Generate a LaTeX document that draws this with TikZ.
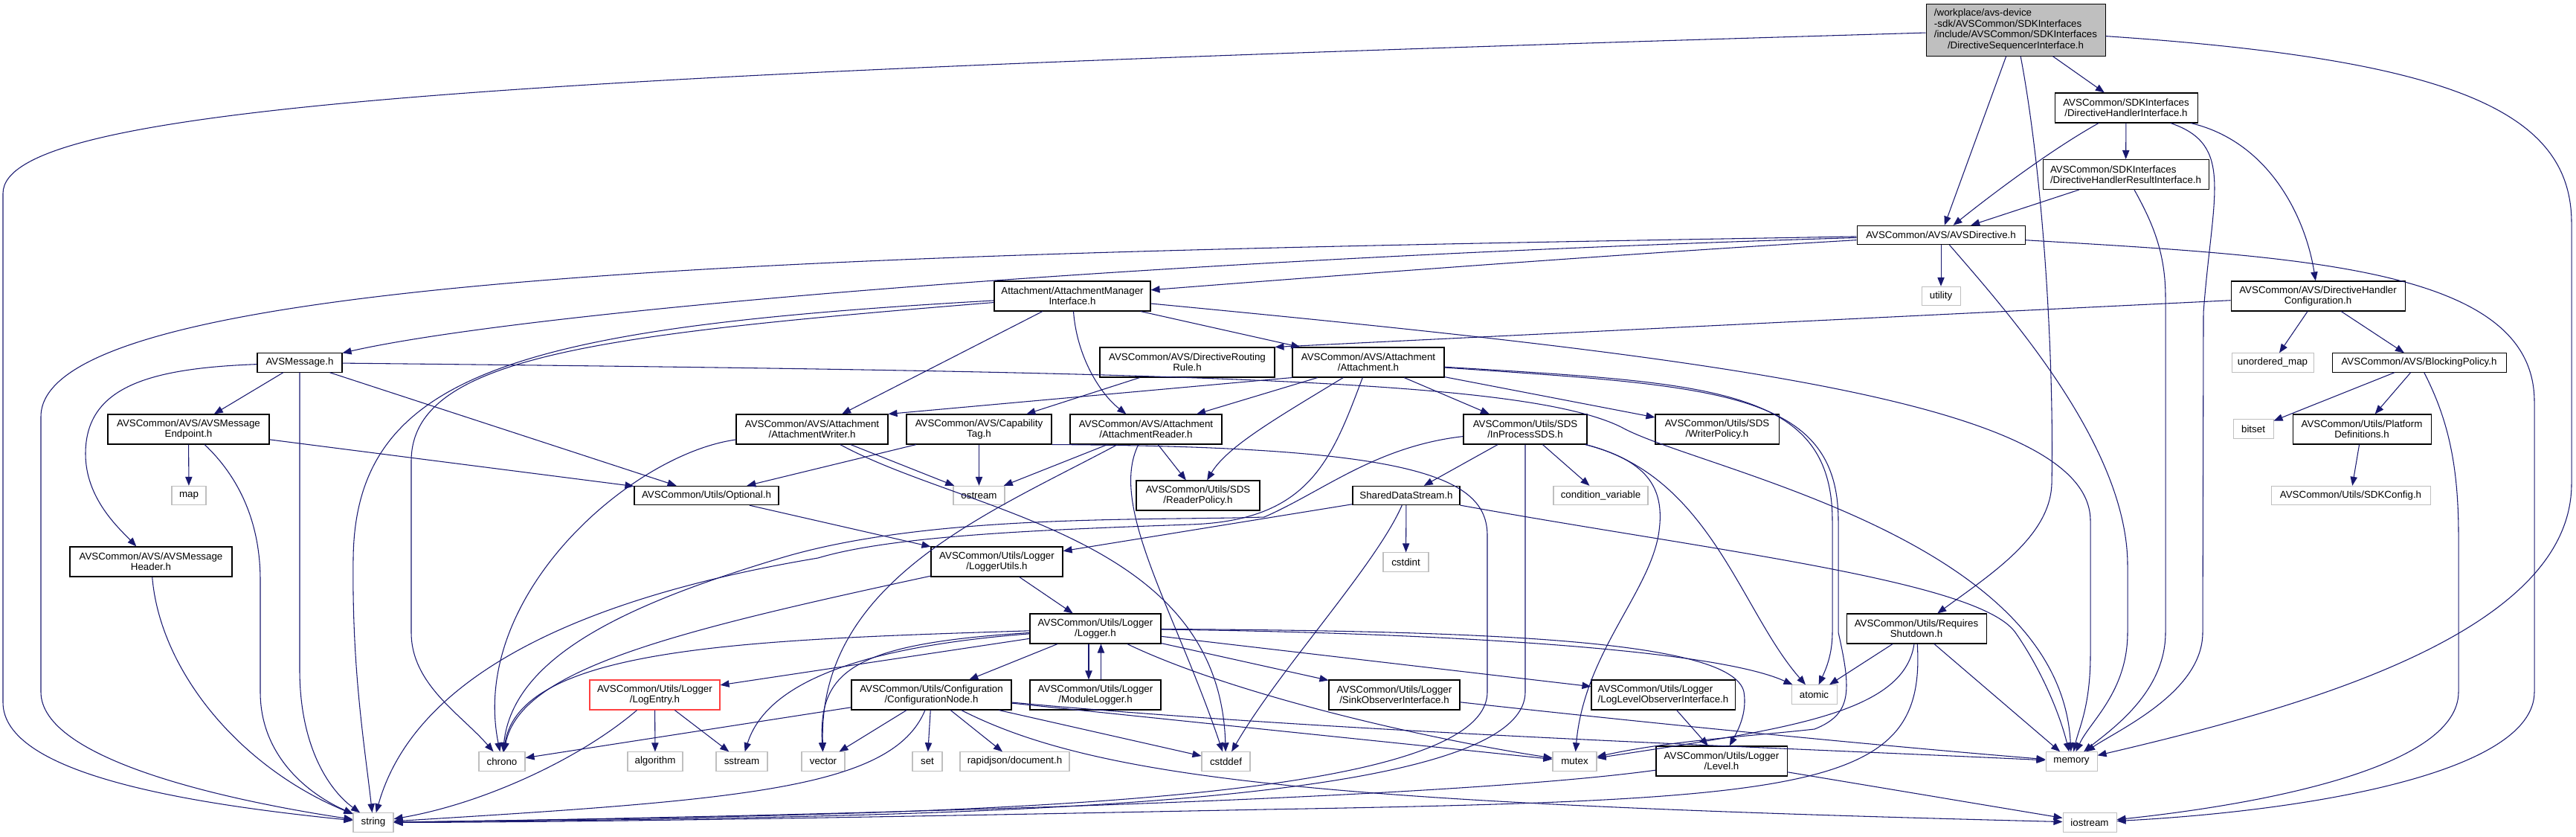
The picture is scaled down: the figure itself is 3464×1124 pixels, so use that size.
\documentclass[tikz,border=0pt]{standalone}
\usepackage{fontspec}
\setmainfont{Liberation Sans}
\usetikzlibrary{arrows.meta}
\definecolor{dxedge}{RGB}{25,25,112}
\definecolor{dxgray}{RGB}{191,191,191}
\definecolor{dxred}{RGB}{255,64,64}

\begin{document}
\begin{tikzpicture}[x=0.75pt,y=-0.75pt,
  hdr/.style={draw=black,fill=white,line width=0.8pt,inner sep=0pt,align=center,
    minimum height=19pt,font=\fontsize{10}{10.5}\selectfont},
  sys/.style={hdr,draw=dxgray},
  two/.style={minimum height=30pt},
  bw/.style={minimum width=#1*0.75pt},
  dep/.style={draw=dxedge,line width=0.8pt,-{Triangle[length=9pt,width=7pt]}}]
  \useasboundingbox (0,0) rectangle (3464,1124);
  % headers
  \node[hdr,fill=dxgray,bw=241,minimum height=52pt,font=\fontsize{10}{11}\selectfont] (root) at (2710.5,40.5)
    {\begin{tabular}{@{}l@{}}/workplace/avs-device\\-sdk/AVSCommon/SDKInterfaces\\/include/AVSCommon/SDKInterfaces\\\multicolumn{1}{@{}c@{}}{/DirectiveSequencerInterface.h}\end{tabular}};
  \node[hdr,two,bw=192] (dhi) at (2859,145) {AVSCommon/SDKInterfaces\\/DirectiveHandlerInterface.h};
  \node[hdr,two,bw=223,align=left] (dhri) at (2858.5,234.5) {AVSCommon/SDKInterfaces\\/DirectiveHandlerResultInterface.h};
  \node[hdr,bw=226] (avsdir) at (2610,316) {AVSCommon/AVS/AVSDirective.h};
  \node[sys,bw=52] (utility) at (2610,398) {utility};
  \node[hdr,two,bw=210] (ami) at (1442,398) {Attachment/AttachmentManager\\Interface.h};
  \node[hdr,two,bw=234] (dhconf) at (3117,398) {AVSCommon/AVS/DirectiveHandler\\Configuration.h};
  \node[hdr,bw=114] (avsmsg) at (403,487.5) {AVSMessage.h};
  \node[hdr,two,bw=235] (drr) at (1596.5,487) {AVSCommon/AVS/DirectiveRouting\\Rule.h};
  \node[hdr,two,bw=204] (attach) at (1840,487) {AVSCommon/AVS/Attachment\\/Attachment.h};
  \node[sys,bw=110] (umap) at (3056,487.5) {unordered\_map};
  \node[hdr,bw=234] (blockp) at (3253,487.5) {AVSCommon/AVS/BlockingPolicy.h};
  \node[hdr,two,bw=217] (endpoint) at (253.5,577) {AVSCommon/AVS/AVSMessage\\Endpoint.h};
  \node[hdr,two,bw=204] (writer) at (1092,577) {AVSCommon/AVS/Attachment\\/AttachmentWriter.h};
  \node[hdr,two,bw=195] (captag) at (1316.5,577) {AVSCommon/AVS/Capability\\Tag.h};
  \node[hdr,two,bw=204] (reader) at (1541,577) {AVSCommon/AVS/Attachment\\/AttachmentReader.h};
  \node[hdr,two,bw=166] (inproc) at (2051,577) {AVSCommon/Utils/SDS\\/InProcessSDS.h};
  \node[hdr,two,bw=166] (wpolicy) at (2309,577) {AVSCommon/Utils/SDS\\/WriterPolicy.h};
  \node[sys,bw=54] (bitset) at (3030,576.5) {bitset};
  \node[hdr,two,bw=186] (platdef) at (3176,577) {AVSCommon/Utils/Platform\\Definitions.h};
  \node[sys,bw=46] (map) at (254,666) {map};
  \node[hdr,bw=194] (optional) at (950,666) {AVSCommon/Utils/Optional.h};
  \node[sys,bw=69] (ostream) at (1316.5,666) {ostream};
  \node[hdr,two,bw=166] (rpolicy) at (1611,666) {AVSCommon/Utils/SDS\\/ReaderPolicy.h};
  \node[hdr,bw=144] (sds) at (1891,666) {SharedDataStream.h};
  \node[sys,bw=127] (condvar) at (2152.5,666) {condition\_variable};
  \node[sys,bw=214] (sdkconf) at (3161,666) {AVSCommon/Utils/SDKConfig.h};
  \node[hdr,two,bw=218] (header) at (203,755) {AVSCommon/AVS/AVSMessage\\Header.h};
  \node[hdr,two,bw=177] (lutils) at (1340.5,755) {AVSCommon/Utils/Logger\\/LoggerUtils.h};
  \node[sys,bw=61] (cstdint) at (1890.5,755.5) {cstdint};
  \node[hdr,two,bw=176] (logger) at (1473,845) {AVSCommon/Utils/Logger\\/Logger.h};
  \node[hdr,two,bw=188] (reqshut) at (2577,845) {AVSCommon/Utils/Requires\\Shutdown.h};
  \node[hdr,two,bw=175,draw=dxred] (logentry) at (880.5,934) {AVSCommon/Utils/Logger\\/LogEntry.h};
  \node[hdr,two,bw=215] (confnode) at (1252.5,934) {AVSCommon/Utils/Configuration\\/ConfigurationNode.h};
  \node[hdr,two,bw=176] (modlog) at (1473,934) {AVSCommon/Utils/Logger\\/ModuleLogger.h};
  \node[hdr,two,bw=176] (sinkobs) at (1875,934) {AVSCommon/Utils/Logger\\/SinkObserverInterface.h};
  \node[hdr,two,bw=193,align=left] (llobs) at (2236.5,934) {AVSCommon/Utils/Logger\\/LogLevelObserverInterface.h};
  \node[sys,bw=61] (atomic) at (2439.5,933.5) {atomic};
  \node[sys,bw=62] (chrono) at (675,1023.5) {chrono};
  \node[sys,bw=74] (algorithm) at (881,1023.5) {algorithm};
  \node[sys,bw=69] (sstream) at (997.5,1023.5) {sstream};
  \node[sys,bw=58] (vector) at (1107,1023.5) {vector};
  \node[sys,bw=40] (set) at (1247,1023.5) {set};
  \node[sys,bw=147] (rapidjson) at (1364.5,1023.5) {rapidjson/document.h};
  \node[sys,bw=65] (cstddef) at (1648.5,1023.5) {cstddef};
  \node[sys,bw=59] (mutex) at (2117.5,1023.5) {mutex};
  \node[hdr,two,bw=176] (level) at (2315,1023) {AVSCommon/Utils/Logger\\/Level.h};
  \node[sys,bw=69] (memory) at (2785.5,1023.5) {memory};
  \node[sys,bw=54] (string) at (502,1105.5) {string};
  \node[sys,bw=72] (iostream) at (2810,1105.5) {iostream};
  % root
  \draw[dep] (root) .. controls (700,100) and (4,140) .. (4,260) -- (4,944) .. controls (4,1040) and (250,1080) .. (string);
  \draw[dep] (root) -- (avsdir);
  \draw[dep] (root) -- (dhi);
  \draw[dep] (root) .. controls (2750,250) and (2762,500) .. (2759,650) .. controls (2757,720) and (2680,770) .. (reqshut);
  \draw[dep] (root) .. controls (3300,80) and (3458,150) .. (3458,300) -- (3458,650) .. controls (3458,850) and (3100,950) .. (memory);
  % directive handler
  \draw[dep] (dhi) .. controls (2760,200) and (2680,260) .. (avsdir);
  \draw[dep] (dhi) -- (dhri);
  \draw[dep] (dhi) .. controls (3005,195) and (2975,260) .. (2963,420) -- (2962,850) .. controls (2962,930) and (2850,980) .. (memory);
  \draw[dep] (dhi) .. controls (3050,190) and (3100,290) .. (dhconf);
  \draw[dep] (dhri) -- (avsdir);
  \draw[dep] (dhri) .. controls (2895,300) and (2912,340) .. (2912,400) -- (2912,850) .. controls (2912,930) and (2840,980) .. (memory);
  % AVSDirective
  \draw[dep] (avsdir) -- (utility);
  \draw[dep] (avsdir) .. controls (2200,340) and (1800,370) .. (ami);
  \draw[dep] (avsdir) .. controls (1500,350) and (700,420) .. (avsmsg);
  \draw[dep] (avsdir) .. controls (1200,340) and (55,360) .. (55,560) -- (55,930) .. controls (55,1020) and (300,1075) .. (string);
  \draw[dep] (avsdir) .. controls (2700,420) and (2861,600) .. (2861,760) -- (2861,850) .. controls (2861,930) and (2810,970) .. (memory);
  \draw[dep] (avsdir) .. controls (3100,345) and (3408,360) .. (3408,540) -- (3408,930) .. controls (3408,1040) and (3100,1090) .. (iostream);
  % handler configuration
  \draw[dep] (dhconf) -- (umap);
  \draw[dep] (dhconf) -- (blockp);
  \draw[dep] (dhconf) -- (drr.north east);
  \draw[dep] (blockp) -- (bitset);
  \draw[dep] (blockp) -- (platdef);
  \draw[dep] (blockp) .. controls (3290,560) and (3306,620) .. (3306,720) -- (3306,930) .. controls (3306,1030) and (3050,1080) .. (iostream);
  \draw[dep] (platdef) -- (sdkconf);
  \draw[dep] (drr) -- (captag);
  % attachment manager
  \draw[dep] (ami) -- (writer);
  \draw[dep] (ami) .. controls (1448,480) and (1480,530) .. (reader);
  \draw[dep] (ami) -- (attach);
  \draw[dep] (ami) .. controls (2300,480) and (2811,540) .. (2811,700) -- (2811,880) .. controls (2811,950) and (2795,980) .. (memory);
  \draw[dep] (ami) .. controls (700,440) and (478,500) .. (475,750) .. controls (473,900) and (490,1000) .. (string);
  \draw[dep] (ami) .. controls (800,450) and (553,480) .. (553,620) -- (553,850) .. controls (553,920) and (620,960) .. (chrono);
  % AVSMessage
  \draw[dep] (avsmsg) -- (endpoint);
  \draw[dep] (avsmsg) .. controls (200,495) and (115,520) .. (115,610) .. controls (115,670) and (160,710) .. (header);
  \draw[dep] (avsmsg) -- (403,900) .. controls (403,1000) and (440,1060) .. (string);
  \draw[dep] (avsmsg) -- (optional);
  \draw[dep] (avsmsg) .. controls (1600,500) and (2050,510) .. (2180,574) .. controls (2280,630) and (2770,720) .. (memory);
  \draw[dep] (endpoint) -- (map);
  \draw[dep] (endpoint) .. controls (320,640) and (350,700) .. (350,780) -- (350,930) .. controls (350,1020) and (420,1070) .. (string);
  \draw[dep] (endpoint) -- (optional);
  \draw[dep] (header) .. controls (215,900) and (320,1030) .. (string);
  % writer, capability tag, reader
  \draw[dep] (writer) -- (ostream);
  \draw[dep] (writer) .. controls (850,610) and (630,800) .. (chrono);
  \draw[dep] (writer) .. controls (1300,690) and (1640,720) .. (cstddef);
  \draw[dep] (captag) -- (optional);
  \draw[dep] (captag) -- (ostream);
  \draw[dep] (captag.south east) .. controls (1900,600) and (2000,640) .. (2000,720) -- (2000,930) .. controls (2000,1090) and (1200,1095) .. (string);
  \draw[dep] (reader) -- (ostream);
  \draw[dep] (reader) .. controls (1330,690) and (1100,780) .. (vector);
  \draw[dep] (reader) .. controls (1490,680) and (1580,820) .. (cstddef);
  \draw[dep] (reader) -- (rpolicy);
  % attachment
  \draw[dep] (attach.south west) -- (writer.north east);
  \draw[dep] (attach) -- (reader);
  \draw[dep] (attach) .. controls (1720,560) and (1650,600) .. (rpolicy);
  \draw[dep] (attach) -- (inproc);
  \draw[dep] (attach) -- (wpolicy);
  \draw[dep] (attach) .. controls (2300,515) and (2464,520) .. (2464,700) -- (2464,850) .. controls (2464,880) and (2455,900) .. (atomic);
  \draw[dep] (attach) .. controls (2305,519) and (2472,524) .. (2472,700) -- (2472,850) .. controls (2490,930) and (2490,960) .. (2440,980) .. controls (2350,990) and (2250,995) .. (mutex);
  \draw[dep] (attach) .. controls (1790,620) and (1760,700) .. (1600,705) .. controls (1400,712) and (1200,720) .. (1100,750) .. controls (800,800) and (560,900) .. (string);
  % shared data stream
  \draw[dep] (inproc) -- (sds);
  \draw[dep] (inproc) -- (condvar);
  \draw[dep] (inproc) .. controls (2220,620) and (2240,660) .. (2230,720) .. controls (2215,800) and (2130,880) .. (mutex);
  \draw[dep] (inproc) .. controls (2300,640) and (2340,820) .. (atomic);
  \draw[dep] (inproc) -- (2051,930) .. controls (2051,1095) and (1200,1098) .. (string);
  \draw[dep] (inproc) .. controls (1850,600) and (1780,660) .. (1700,695) .. controls (1550,700) and (1250,690) .. (1050,750) .. controls (850,810) and (690,880) .. (chrono);
  \draw[dep] (sds) -- (lutils);
  \draw[dep] (sds) -- (cstdint);
  \draw[dep] (sds) .. controls (1850,760) and (1720,900) .. (cstddef);
  \draw[dep] (sds) .. controls (2300,740) and (2660,780) .. (2710,850) .. controls (2745,900) and (2770,960) .. (memory);
  % logger
  \draw[dep] (optional) -- (lutils);
  \draw[dep] (lutils) -- (logger);
  \draw[dep] (lutils) .. controls (900,850) and (700,900) .. (chrono);
  \draw[dep] (logger) -- (logentry);
  \draw[dep] (logger) -- (confnode);
  \draw[dep] ([xshift=-6.75pt]logger.south) -- ([xshift=-6.75pt]modlog.north);
  \draw[dep] ([xshift=5.6pt]modlog.north) -- ([xshift=5.6pt]logger.south);
  \draw[dep] (logger) .. controls (1000,860) and (700,870) .. (chrono);
  \draw[dep] (logger) .. controls (1150,870) and (1030,920) .. (sstream);
  \draw[dep] (logger) .. controls (1150,865) and (1100,900) .. (vector);
  \draw[dep] (logger) -- (sinkobs);
  \draw[dep] (logger) -- (llobs);
  \draw[dep] (logger) .. controls (1900,850) and (2300,870) .. (atomic);
  \draw[dep] (logger) .. controls (2000,848) and (2330,860) .. (2345,930) .. controls (2350,960) and (2335,985) .. (level);
  \draw[dep] (logger) .. controls (1650,930) and (1900,990) .. (mutex);
  % configuration node
  \draw[dep] (confnode) -- (chrono);
  \draw[dep] (confnode) -- (vector);
  \draw[dep] (confnode) .. controls (1200,1060) and (1000,1075) .. (string);
  \draw[dep] (confnode) -- (set);
  \draw[dep] (confnode) -- (rapidjson);
  \draw[dep] (confnode) .. controls (1480,1050) and (1800,1080) .. (iostream);
  \draw[dep] (confnode) -- (cstddef);
  \draw[dep] (confnode) .. controls (1800,985) and (2400,1005) .. (memory);
  \draw[dep] (confnode) -- (mutex);
  % the rest
  \draw[dep] (logentry) -- (algorithm);
  \draw[dep] (logentry) -- (sstream);
  \draw[dep] (logentry) .. controls (780,1020) and (650,1080) .. (string);
  \draw[dep] (sinkobs) .. controls (2200,970) and (2500,1000) .. (memory);
  \draw[dep] (llobs) -- (level);
  \draw[dep] (level) .. controls (1900,1080) and (900,1100) .. (string);
  \draw[dep] (level) -- (iostream);
  \draw[dep] (reqshut) -- (atomic);
  \draw[dep] (reqshut) -- (memory);
  \draw[dep] (reqshut) .. controls (2590,1060) and (2450,1075) .. (1700,1088) .. controls (1200,1098) and (800,1105) .. (string);
  \draw[dep] (reqshut) .. controls (2560,960) and (2400,980) .. (mutex);
\end{tikzpicture}
\end{document}
